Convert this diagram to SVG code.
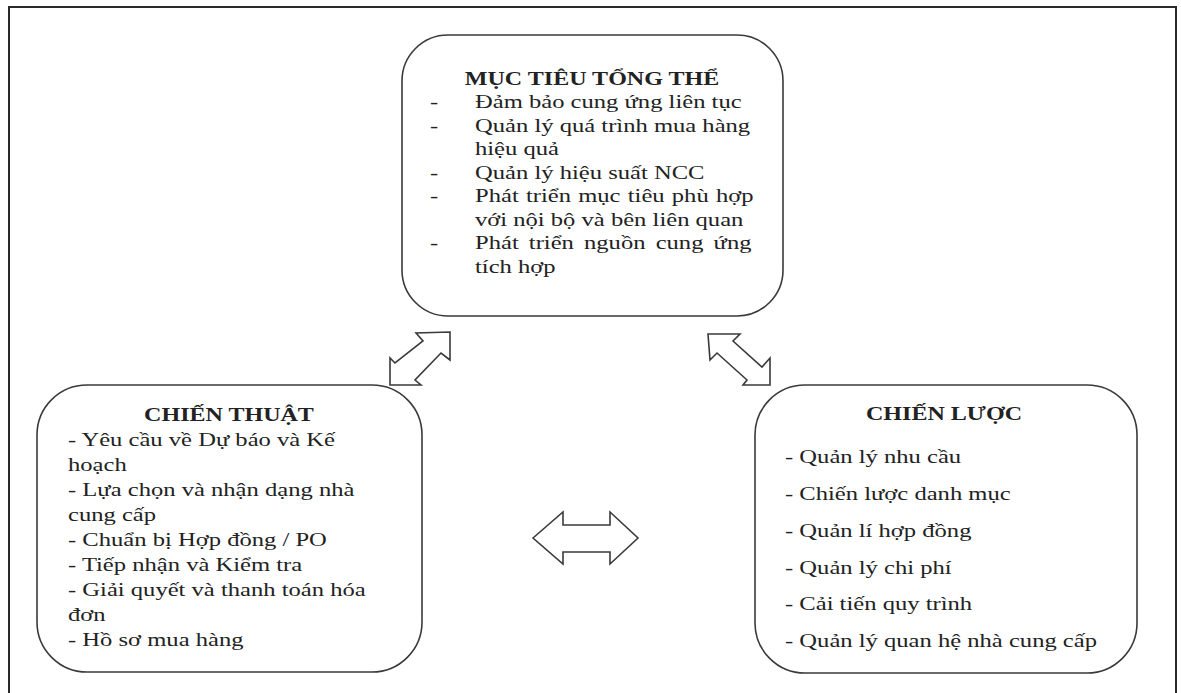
<svg xmlns="http://www.w3.org/2000/svg" width="1181" height="693" viewBox="0 0 1181 693">
<style>
.frame{fill:none;stroke:#2a2a2a;stroke-width:2}
.box{fill:#fff;stroke:#3a3a3a;stroke-width:1.6}
.arr{fill:#fff;stroke:#3a3a3a;stroke-width:1.6;stroke-linejoin:miter}
text{font-family:"Liberation Serif","Times New Roman",serif;font-size:18.5px;fill:#222}
.t{font-weight:bold;text-anchor:middle}
</style>
<rect width="1181" height="693" fill="#fff"/>
<path class="frame" d="M9,693 V7 H1176 V693"/>
<g id="connectors">
<polygon id="arrow-top-left" class="arr" points="450,332 450,360 441,353 415,380 421,385 390,385 390,358 395,363 423,341 416,333"/>
<polygon id="arrow-top-right" class="arr" points="708,334 740,334 733,341 762,367 770,358 770,385 743,385 747,380 717,353 710,360"/>
<polygon id="arrow-middle" class="arr" points="533,538 563,512 563,525 610,525 610,512 638,538 610,564 610,552 563,552 563,564"/>
</g>
<g id="node-top">
<rect class="box" x="402" y="35" width="381" height="281" rx="46"/>
<text class="t" transform="translate(592,85) scale(1.3,1)">MỤC TIÊU TỔNG THỂ</text>
<text transform="translate(430,108) scale(1.33,1)">-</text>
<text transform="translate(475,108) scale(1.33,1)">Đảm bảo cung ứng liên tục</text>
<text transform="translate(430,131.5) scale(1.33,1)">-</text>
<text transform="translate(475,131.5) scale(1.33,1)">Quản lý quá trình mua hàng</text>
<text transform="translate(475,155) scale(1.33,1)">hiệu quả</text>
<text transform="translate(430,178.5) scale(1.33,1)">-</text>
<text transform="translate(475,178.5) scale(1.33,1)">Quản lý hiệu suất NCC</text>
<text transform="translate(430,202) scale(1.33,1)">-</text>
<text transform="translate(475,202) scale(1.33,1)" word-spacing="0.8">Phát triển mục tiêu phù hợp</text>
<text transform="translate(475,225.5) scale(1.33,1)">với nội bộ và bên liên quan</text>
<text transform="translate(430,249) scale(1.33,1)">-</text>
<text transform="translate(475,249) scale(1.33,1)" word-spacing="3">Phát triển nguồn cung ứng</text>
<text transform="translate(475,272.5) scale(1.33,1)">tích hợp</text>
</g>
<g id="node-left">
<rect class="box" x="37" y="385" width="385" height="287" rx="50"/>
<text class="t" transform="translate(229,421) scale(1.3,1)">CHIẾN THUẬT</text>
<text transform="translate(68,446) scale(1.33,1)">- Yêu cầu về Dự báo và Kế</text>
<text transform="translate(68,471) scale(1.33,1)">hoạch</text>
<text transform="translate(68,496) scale(1.33,1)">- Lựa chọn và nhận dạng nhà</text>
<text transform="translate(68,521) scale(1.33,1)">cung cấp</text>
<text transform="translate(68,546) scale(1.33,1)">- Chuẩn bị Hợp đồng / PO</text>
<text transform="translate(68,571) scale(1.33,1)">- Tiếp nhận và Kiểm tra</text>
<text transform="translate(68,596) scale(1.33,1)">- Giải quyết và thanh toán hóa</text>
<text transform="translate(68,621) scale(1.33,1)">đơn</text>
<text transform="translate(68,646) scale(1.33,1)">- Hồ sơ mua hàng</text>
</g>
<g id="node-right">
<rect class="box" x="755" y="385" width="382" height="288" rx="50"/>
<text class="t" transform="translate(944,420) scale(1.3,1)">CHIẾN LƯỢC</text>
<text transform="translate(785,463) scale(1.33,1)">- Quản lý nhu cầu</text>
<text transform="translate(785,500) scale(1.33,1)">- Chiến lược danh mục</text>
<text transform="translate(785,537) scale(1.33,1)">- Quản lí hợp đồng</text>
<text transform="translate(785,574) scale(1.33,1)">- Quản lý chi phí</text>
<text transform="translate(785,610) scale(1.33,1)">- Cải tiến quy trình</text>
<text transform="translate(785,647) scale(1.33,1)">- Quản lý quan hệ nhà cung cấp</text>
</g>
</svg>
